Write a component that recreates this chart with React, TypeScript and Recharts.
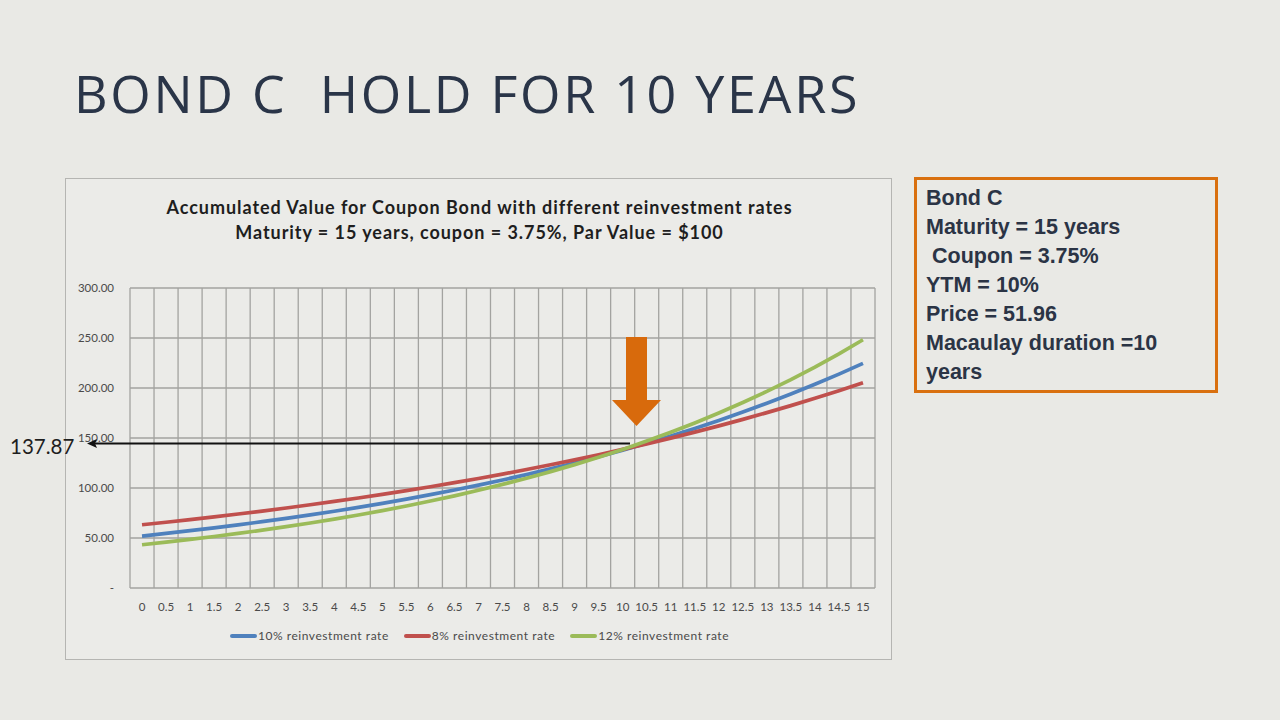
import React from 'react';
import { LineChart, Line, XAxis, YAxis, CartesianGrid } from 'recharts';

// half-year steps over the 15 year life
const years = [
  '0', '0.5', '1', '1.5', '2', '2.5', '3', '3.5', '4', '4.5', '5', '5.5', '6', '6.5', '7', '7.5',
  '8', '8.5', '9', '9.5', '10', '10.5', '11', '11.5', '12', '12.5', '13', '13.5', '14', '14.5', '15',
];

// accumulated value, per reinvestment rate
const rate10 = [
  51.96, 54.56, 57.29, 60.15, 63.16, 66.32, 69.63, 73.11, 76.77, 80.61, 84.64, 88.87, 93.31, 97.98, 102.88,
  108.02, 113.42, 119.09, 125.05, 131.3, 137.87, 144.76, 152.0, 159.6, 167.58, 175.96, 184.75, 193.99,
  203.69, 213.87, 224.57,
];
const rate8 = [
  63.25, 65.78, 68.41, 71.15, 74.0, 76.96, 80.03, 83.23, 86.56, 90.02, 93.62, 97.37, 101.26, 105.32, 109.53,
  113.91, 118.47, 123.2, 128.13, 133.26, 138.59, 144.13, 149.9, 155.89, 162.13, 168.61, 175.36, 182.38,
  189.67, 197.26, 205.15,
];
const rate12 = [
  43.22, 45.81, 48.56, 51.48, 54.56, 57.84, 61.31, 64.99, 68.88, 73.02, 77.4, 82.04, 86.97, 92.18, 97.72,
  103.58, 109.8, 116.38, 123.36, 130.77, 138.61, 146.93, 155.74, 165.09, 174.99, 185.5, 196.63, 208.42,
  220.93, 234.18, 248.23,
];

const yTicks = [0, 50, 100, 150, 200, 250, 300];

const seriesInfo = [
  { key: 'r10', name: '10% reinvestment rate', color: '#4f81bd' },
  { key: 'r8', name: '8% reinvestment rate', color: '#c0504d' },
  { key: 'r12', name: '12% reinvestment rate', color: '#9bbb59' },
];

const bondInfo = [
  'Bond C',
  'Maturity = 15 years',
  '\u00a0Coupon = 3.75%',
  'YTM = 10%',
  'Price = 51.96',
  'Macaulay duration =10',
  'years',
];

const data = years.map((t, i) => ({ t, r10: rate10[i], r8: rate8[i], r12: rate12[i] }));

const chartFont = 'Lato, "Open Sans", sans-serif';
// plot is 745px wide with one band per half year; pad by half a band so points sit mid-band
const halfBand = 745 / years.length / 2;

export default function App() {
  return (
    <div
      style={{
        position: 'absolute',
        left: 0,
        top: 0,
        width: 1280,
        height: 720,
        background: '#e9e9e5',
        overflow: 'hidden',
      }}
    >
      <div
        style={{
          position: 'absolute',
          left: 74,
          top: 58,
          fontFamily: '"Open Sans", sans-serif',
          fontSize: 52,
          letterSpacing: 2.7,
          color: '#2a3548',
          whiteSpace: 'pre',
          lineHeight: '70px',
        }}
      >
        {'BOND C  HOLD FOR 10 YEARS'}
      </div>

      {/* chart frame */}
      <div
        style={{
          position: 'absolute',
          left: 65,
          top: 178,
          width: 825,
          height: 480,
          border: '1px solid #b5b5b2',
          background: '#ebebe8',
        }}
      >
        <div
          style={{
            position: 'absolute',
            left: 0,
            top: 16,
            width: 827,
            textAlign: 'center',
            fontFamily: chartFont,
            fontWeight: 700,
            fontSize: 18,
            letterSpacing: 0.95,
            lineHeight: '25px',
            color: '#1e1e1e',
          }}
        >
          <div>Accumulated Value for Coupon Bond with different reinvestment rates</div>
          <div>Maturity = 15 years, coupon = 3.75%, Par Value = $100</div>
        </div>

        <LineChart
          width={827}
          height={482}
          data={data}
          margin={{ top: 110, right: 17, bottom: 42, left: 0 }}
          style={{ position: 'absolute', left: -1, top: -1 }}
        >
          <CartesianGrid
            stroke="#a3a3a0"
            strokeWidth={1.3}
            verticalCoordinatesGenerator={({ offset }: any) =>
              Array.from({ length: years.length + 1 }, (_, i) => offset.left + (i * offset.width) / years.length)
            }
          />
          <XAxis
            dataKey="t"
            interval={0}
            height={30}
            padding={{ left: halfBand, right: halfBand }}
            axisLine={false}
            tickLine={false}
            tickMargin={9}
            tick={{ fontSize: 11.5, fill: '#4a4a4a', fontFamily: chartFont }}
          />
          <YAxis
            domain={[0, 300]}
            ticks={yTicks}
            width={65}
            axisLine={false}
            tickLine={false}
            tickMargin={10}
            tickFormatter={(v: number) => (v === 0 ? '-' : v.toFixed(2))}
            tick={{ fontSize: 11.5, fill: '#4a4a4a', fontFamily: chartFont }}
          />
          {seriesInfo.map((s) => (
            <Line
              key={s.key}
              type="linear"
              dataKey={s.key}
              name={s.name}
              stroke={s.color}
              strokeWidth={3.7}
              dot={false}
              isAnimationActive={false}
            />
          ))}
        </LineChart>

        {/* legend */}
        <div
          style={{
            position: 'absolute',
            left: 0,
            top: 449,
            width: 827,
            display: 'flex',
            justifyContent: 'center',
            gap: 15,
            fontFamily: chartFont,
            fontSize: 12,
            letterSpacing: 0.55,
            color: '#4a4a4a',
          }}
        >
          {seriesInfo.map((s) => (
            <div key={s.key} style={{ display: 'flex', alignItems: 'center' }}>
              <span
                style={{
                  display: 'inline-block',
                  width: 27,
                  height: 4,
                  borderRadius: 2,
                  background: s.color,
                  marginRight: 1,
                }}
              />
              <span>{s.name}</span>
            </div>
          ))}
        </div>
      </div>

      {/* annotations drawn on the slide */}
      <svg width={1280} height={720} style={{ position: 'absolute', left: 0, top: 0, pointerEvents: 'none' }}>
        <line x1={94} y1={443.5} x2={630} y2={443.5} stroke="#111" strokeWidth={2} />
        <polygon points="87,443.5 97,439 95,443.5 97,448" fill="#111" />
        <rect x={626} y={337} width={21} height={64} fill="#d86a0c" />
        <polygon points="612,400 661,400 636.5,426" fill="#d86a0c" />
      </svg>
      <div
        style={{
          position: 'absolute',
          left: 10,
          top: 434,
          fontFamily: chartFont,
          fontSize: 20.5,
          color: '#1e1e1e',
        }}
      >
        137.87
      </div>

      {/* info box */}
      <div
        style={{
          position: 'absolute',
          left: 914,
          top: 177,
          width: 289,
          height: 203,
          border: '3px solid #d9700f',
          padding: '7px 0 0 9px',
          boxSizing: 'content-box',
          fontFamily: '"Liberation Sans", Arial, sans-serif',
          fontWeight: 700,
          fontSize: 21.5,
          color: '#2b3445',
        }}
      >
        {bondInfo.map((l, i) => (
          <div key={i} style={{ height: 29, lineHeight: '22px', whiteSpace: 'nowrap' }}>
            {l}
          </div>
        ))}
      </div>
    </div>
  );
}
